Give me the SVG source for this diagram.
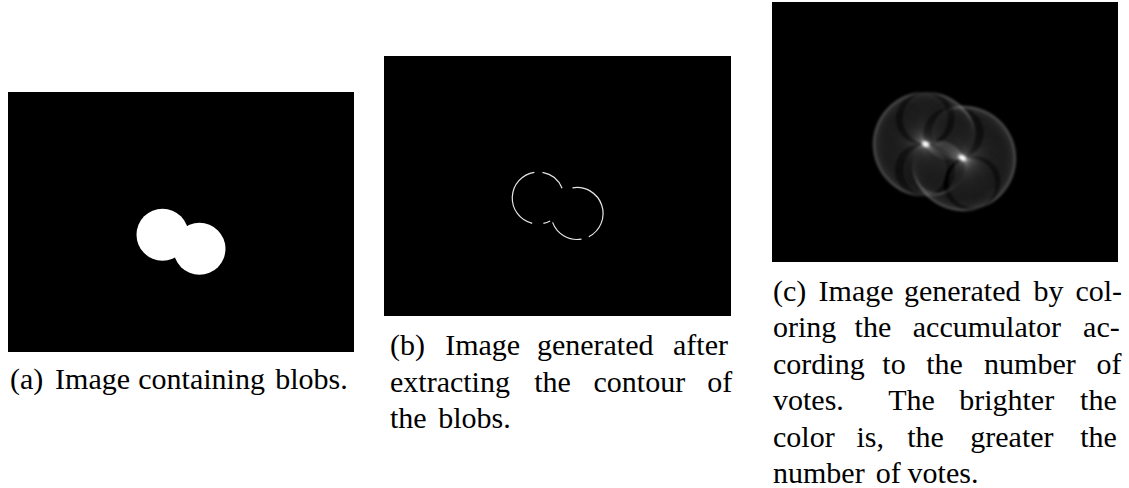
<svg xmlns="http://www.w3.org/2000/svg" xmlns:xlink="http://www.w3.org/1999/xlink" width="1129" height="488" viewBox="0 0 1129 488">
<style>
.bg{fill:#000}
.blob{fill:#fff}
.edge{fill:none;stroke:#e6e6e6;stroke-width:1.2}
.vote{fill:none;stroke:#fff;stroke-width:2.4;stroke-opacity:0.065}
.cap{font-family:"Liberation Serif","Times New Roman",serif;font-size:30px;fill:#000}
</style>
<defs>
<circle id="v" cx="26" cy="0" r="26"/>
<filter id="soft" x="-20%" y="-20%" width="140%" height="140%"><feGaussianBlur stdDeviation="0.9"/></filter>
<filter id="glow" x="-100%" y="-100%" width="300%" height="300%"><feGaussianBlur stdDeviation="1.6"/></filter>
</defs>
<rect width="1129" height="488" fill="#fff"/>

<g id="panel-a">
<rect class="bg" x="8" y="92" width="346" height="260"/>
<circle class="blob" cx="162.5" cy="234.7" r="26"/>
<circle class="blob" cx="199.5" cy="248.8" r="26"/>
<text class="cap" y="388.5"><tspan x="10">(a)</tspan><tspan x="55.1">Image</tspan><tspan x="138.3">containing</tspan><tspan x="275.2">blobs.</tspan></text>
</g>

<g id="panel-b">
<rect class="bg" x="384" y="56" width="347" height="260"/>
<path class="edge" d="M550.2,221 A26,26 0 0 1 543.4,223.4 M532.2,223.3 A26,26 0 0 1 534.4,172.3 M542.5,172.4 A26,26 0 0 1 562.1,188.3 M581.5,239.1 A26,26 0 0 1 552.6,222.4 M572.5,187.9 A26,26 0 0 1 588.8,236.7"/>
<text class="cap" y="355"><tspan x="390">(b)</tspan><tspan x="445.2">Image</tspan><tspan x="536.9">generated</tspan><tspan x="673">after</tspan></text>
<text class="cap" y="391.6"><tspan x="390">extracting</tspan><tspan x="534.2">the</tspan><tspan x="593.5">contour</tspan><tspan x="707.3">of</tspan></text>
<text class="cap" y="428.2"><tspan x="390">the</tspan><tspan x="438.2">blobs.</tspan></text>
</g>

<g id="panel-c">
<rect class="bg" x="772" y="2" width="346" height="260"/>
<g filter="url(#soft)">
<g class="vote" transform="translate(925.5 144.3)">
<use xlink:href="#v" transform="rotate(62)"/><use xlink:href="#v" transform="rotate(70)"/><use xlink:href="#v" transform="rotate(78)"/>
<use xlink:href="#v" transform="rotate(103)"/><use xlink:href="#v" transform="rotate(109)"/><use xlink:href="#v" transform="rotate(115)"/><use xlink:href="#v" transform="rotate(121)"/><use xlink:href="#v" transform="rotate(127)"/><use xlink:href="#v" transform="rotate(133)"/><use xlink:href="#v" transform="rotate(139)"/><use xlink:href="#v" transform="rotate(145)"/><use xlink:href="#v" transform="rotate(151)"/><use xlink:href="#v" transform="rotate(157)"/><use xlink:href="#v" transform="rotate(163)"/><use xlink:href="#v" transform="rotate(169)"/><use xlink:href="#v" transform="rotate(175)"/><use xlink:href="#v" transform="rotate(181)"/><use xlink:href="#v" transform="rotate(187)"/><use xlink:href="#v" transform="rotate(193)"/><use xlink:href="#v" transform="rotate(199)"/><use xlink:href="#v" transform="rotate(205)"/><use xlink:href="#v" transform="rotate(211)"/><use xlink:href="#v" transform="rotate(217)"/><use xlink:href="#v" transform="rotate(223)"/><use xlink:href="#v" transform="rotate(229)"/><use xlink:href="#v" transform="rotate(235)"/><use xlink:href="#v" transform="rotate(241)"/><use xlink:href="#v" transform="rotate(247)"/><use xlink:href="#v" transform="rotate(253)"/><use xlink:href="#v" transform="rotate(259)"/>
<use xlink:href="#v" transform="rotate(280)"/><use xlink:href="#v" transform="rotate(286)"/><use xlink:href="#v" transform="rotate(292)"/><use xlink:href="#v" transform="rotate(298)"/><use xlink:href="#v" transform="rotate(304)"/><use xlink:href="#v" transform="rotate(310)"/><use xlink:href="#v" transform="rotate(316)"/><use xlink:href="#v" transform="rotate(322)"/><use xlink:href="#v" transform="rotate(328)"/><use xlink:href="#v" transform="rotate(334)"/>
</g>
<g class="vote" transform="translate(963.5 158.5)">
<use xlink:href="#v" transform="rotate(80)"/><use xlink:href="#v" transform="rotate(86)"/><use xlink:href="#v" transform="rotate(92)"/><use xlink:href="#v" transform="rotate(98)"/><use xlink:href="#v" transform="rotate(104)"/><use xlink:href="#v" transform="rotate(110)"/><use xlink:href="#v" transform="rotate(116)"/><use xlink:href="#v" transform="rotate(122)"/><use xlink:href="#v" transform="rotate(128)"/><use xlink:href="#v" transform="rotate(134)"/><use xlink:href="#v" transform="rotate(140)"/><use xlink:href="#v" transform="rotate(146)"/><use xlink:href="#v" transform="rotate(152)"/><use xlink:href="#v" transform="rotate(158)"/>
<use xlink:href="#v" transform="rotate(260)"/><use xlink:href="#v" transform="rotate(266)"/><use xlink:href="#v" transform="rotate(272)"/><use xlink:href="#v" transform="rotate(278)"/><use xlink:href="#v" transform="rotate(284)"/><use xlink:href="#v" transform="rotate(290)"/><use xlink:href="#v" transform="rotate(296)"/><use xlink:href="#v" transform="rotate(302)"/><use xlink:href="#v" transform="rotate(308)"/><use xlink:href="#v" transform="rotate(314)"/><use xlink:href="#v" transform="rotate(320)"/><use xlink:href="#v" transform="rotate(326)"/><use xlink:href="#v" transform="rotate(332)"/><use xlink:href="#v" transform="rotate(338)"/><use xlink:href="#v" transform="rotate(344)"/><use xlink:href="#v" transform="rotate(350)"/><use xlink:href="#v" transform="rotate(356)"/><use xlink:href="#v" transform="rotate(362)"/><use xlink:href="#v" transform="rotate(368)"/><use xlink:href="#v" transform="rotate(374)"/><use xlink:href="#v" transform="rotate(380)"/><use xlink:href="#v" transform="rotate(386)"/><use xlink:href="#v" transform="rotate(392)"/><use xlink:href="#v" transform="rotate(398)"/><use xlink:href="#v" transform="rotate(404)"/><use xlink:href="#v" transform="rotate(410)"/><use xlink:href="#v" transform="rotate(416)"/><use xlink:href="#v" transform="rotate(422)"/>
</g>
</g>
<g filter="url(#glow)" fill="#fff">
<ellipse cx="925.7" cy="144" rx="3.5" ry="2.2" transform="rotate(25 925.7 144)"/>
<ellipse cx="962" cy="157.7" rx="3.5" ry="2.2" transform="rotate(25 962 157.7)"/>
</g>
<text class="cap" y="300.5"><tspan x="773">(c)</tspan><tspan x="818.6">Image</tspan><tspan x="903.9">generated</tspan><tspan x="1033.6">by</tspan><tspan x="1075.4">col-</tspan></text>
<text class="cap" y="337.1"><tspan x="773">oring</tspan><tspan x="854.6">the</tspan><tspan x="912.8">accumulator</tspan><tspan x="1083.1">ac-</tspan></text>
<text class="cap" y="373.7"><tspan x="773">cording</tspan><tspan x="882.3">to</tspan><tspan x="926.2">the</tspan><tspan x="984.1">number</tspan><tspan x="1096.5">of</tspan></text>
<text class="cap" y="410.3"><tspan x="773">votes.</tspan><tspan x="888.3">The</tspan><tspan x="959.2">brighter</tspan><tspan x="1080.1">the</tspan></text>
<text class="cap" y="446.9"><tspan x="773">color</tspan><tspan x="856.4">is,</tspan><tspan x="907.2">the</tspan><tspan x="970.3">greater</tspan><tspan x="1080.2">the</tspan></text>
<text class="cap" y="483"><tspan x="773">number</tspan><tspan x="875.7">of</tspan><tspan x="907.6">votes.</tspan></text>
</g>
</svg>
